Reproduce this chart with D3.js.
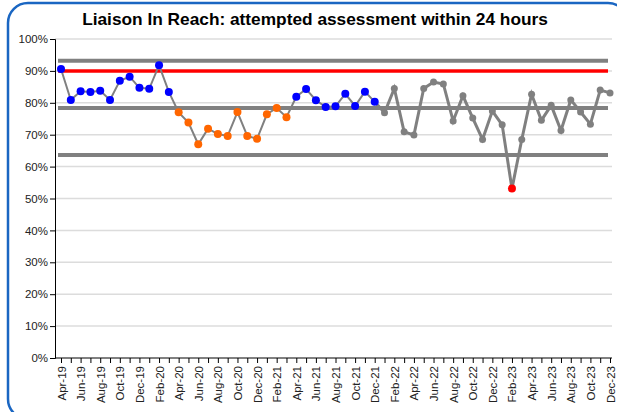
<!DOCTYPE html>
<html>
<head>
<meta charset="utf-8">
<script src="https://cdn.jsdelivr.net/npm/d3@7"></script>
<style>
  body { margin: 0; background: #fff; }
  svg { display: block; font-family: "Liberation Sans", Arial, sans-serif; }
</style>
</head>
<body>
<svg id="chart"></svg>
<script>
const width = 617;
const height = 412;

// Months Apr-19 .. Dec-23
const months = [
  "Apr-19","May-19","Jun-19","Jul-19","Aug-19","Sep-19","Oct-19","Nov-19","Dec-19",
  "Jan-20","Feb-20","Mar-20","Apr-20","May-20","Jun-20","Jul-20","Aug-20","Sep-20","Oct-20","Nov-20","Dec-20",
  "Jan-21","Feb-21","Mar-21","Apr-21","May-21","Jun-21","Jul-21","Aug-21","Sep-21","Oct-21","Nov-21","Dec-21",
  "Jan-22","Feb-22","Mar-22","Apr-22","May-22","Jun-22","Jul-22","Aug-22","Sep-22","Oct-22","Nov-22","Dec-22",
  "Jan-23","Feb-23","Mar-23","Apr-23","May-23","Jun-23","Jul-23","Aug-23","Sep-23","Oct-23","Nov-23","Dec-23"
];

// % attempted assessment within 24 hours
const values = [
  90.6, 80.9, 83.6, 83.4, 83.8, 80.9, 86.9, 88.2, 84.7,
  84.4, 91.8, 83.4, 77.0, 73.8, 67.0, 71.9, 70.2, 69.6, 77.1, 69.6, 68.7,
  76.4, 78.4, 75.5, 81.9, 84.3, 80.8, 78.7, 78.9, 82.8, 79.0, 83.5, 80.3,
  76.9, 84.5, 70.9, 69.9, 84.5, 86.5, 85.9, 74.3, 82.2, 75.2, 68.5, 77.4,
  73.1, 53.1, 68.5, 82.7, 74.5, 79.2, 71.3, 80.9, 77.1, 73.3, 84.0, 83.1
];

// point category: run above/below mean, baseline, special cause
const flags = [
  "hi","hi","hi","hi","hi","hi","hi","hi","hi",
  "hi","hi","hi","lo","lo","lo","lo","lo","lo","lo","lo","lo",
  "lo","lo","lo","hi","hi","hi","hi","hi","hi","hi","hi","hi",
  "n","n","n","n","n","n","n","n","n","n","n","n",
  "n","out","n","n","n","n","n","n","n","n","n","n"
];

const target = 90;
const mean = 78.4;
const ucl = 93.2;
const lcl = 63.6;

const flagColor = { hi: "#0000ff", lo: "#ff6600", n: "#808080", out: "#ff0000" };

const data = months.map((m, i) => ({ month: m, value: values[i], flag: flags[i] }));

const svg = d3.select("#chart")
  .attr("width", width)
  .attr("height", height);

// rounded frame
svg.append("rect")
  .attr("x", 8).attr("y", 3)
  .attr("width", 620).attr("height", 416)
  .attr("rx", 20)
  .attr("fill", "none")
  .attr("stroke", "#1a66c2")
  .attr("stroke-width", 2.5);

svg.append("text")
  .attr("x", 315).attr("y", 25)
  .attr("text-anchor", "middle")
  .attr("font-size", 17.3)
  .attr("font-weight", "bold")
  .text("Liaison In Reach: attempted assessment within 24 hours");

const x = d3.scalePoint().domain(months).range([61, 610]);
const y = d3.scaleLinear().domain([0, 100]).range([358, 39]);

const plotLeft = 55, plotRight = 612;

// gridlines
svg.append("g")
  .selectAll("line")
  .data(d3.range(10, 101, 10))
  .join("line")
  .attr("x1", plotLeft).attr("x2", plotRight)
  .attr("y1", d => y(d)).attr("y2", d => y(d))
  .attr("stroke", "#dcdcdc")
  .attr("stroke-width", 1.5);

// y axis
const yAxis = svg.append("g")
  .attr("transform", `translate(${plotLeft},0)`)
  .call(d3.axisLeft(y).tickValues(d3.range(0, 101, 10)).tickSize(5).tickFormat(d => d + "%"));
yAxis.select(".domain").attr("stroke", "#000");
yAxis.selectAll("text").attr("font-size", 11.5).attr("fill", "#222").attr("x", -7);

// x axis
const xAxis = svg.append("g")
  .attr("transform", `translate(0,${y(0)})`)
  .call(d3.axisBottom(x).tickSize(5).tickFormat((d, i) => i % 2 === 0 ? d : ""));
xAxis.select(".domain").attr("d", `M${plotLeft},0H${plotRight}`).attr("stroke", "#000");
xAxis.selectAll("text")
  .attr("font-size", 11.5)
  .attr("fill", "#222")
  .attr("transform", "rotate(-90)")
  .attr("text-anchor", "end")
  .attr("x", -8)
  .attr("y", 0)
  .attr("dy", "0.35em");

// control lines
const x0 = x(months[0]) - 3, x1 = x(months[months.length - 1]) - 2;
const ctrl = [
  { v: ucl, c: "#808080", w: 4 },
  { v: mean, c: "#808080", w: 4 },
  { v: lcl, c: "#808080", w: 4 },
  { v: target, c: "#ff0000", w: 3.5 }
];
svg.append("g")
  .selectAll("line")
  .data(ctrl)
  .join("line")
  .attr("x1", x0).attr("x2", x1)
  .attr("y1", d => y(d.v)).attr("y2", d => y(d.v))
  .attr("stroke", d => d.c)
  .attr("stroke-width", d => d.w);

// data line: baseline period thinner, later period thicker
const line = d3.line().x(d => x(d.month)).y(d => y(d.value));
const split = months.indexOf("Dec-21");
svg.append("path")
  .datum(data.slice(0, split + 1))
  .attr("d", line)
  .attr("fill", "none")
  .attr("stroke", "#808080")
  .attr("stroke-width", 2);
svg.append("path")
  .datum(data.slice(split))
  .attr("d", line)
  .attr("fill", "none")
  .attr("stroke", "#808080")
  .attr("stroke-width", 3);

svg.append("g")
  .selectAll("circle")
  .data(data)
  .join("circle")
  .attr("cx", d => x(d.month))
  .attr("cy", d => y(d.value))
  .attr("r", d => d.flag === "n" ? 3.5 : 4)
  .attr("fill", d => flagColor[d.flag]);
</script>
</body>
</html>
